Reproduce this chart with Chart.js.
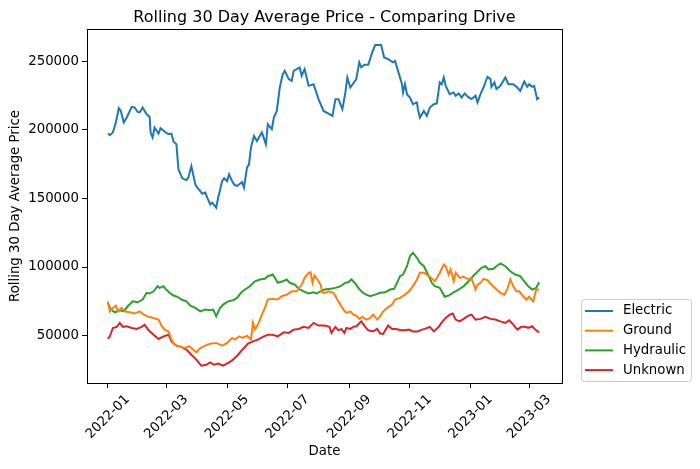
<!DOCTYPE html>
<html>
<head>
<meta charset="utf-8">
<script src="https://cdn.jsdelivr.net/npm/chart.js@4.4.1/dist/chart.umd.min.js"></script>
<style>
  html, body { margin: 0; padding: 0; background: #fff; }
  #chart { display: block; }
</style>
</head>
<body>
<canvas id="chart" width="700" height="469"></canvas>
<script>
// days counted from 2022-01-01
const tickDays = [0, 59, 120, 181, 243, 304, 365, 424];
const tickLabels = ["2022-01", "2022-03", "2022-05", "2022-07", "2022-09", "2022-11", "2023-01", "2023-03"];
const yTicks = [50000, 100000, 150000, 200000, 250000];
const seriesNames = ["Electric", "Ground", "Hydraulic", "Unknown"];
const seriesColors = ["#1f77b4", "#ff7f0e", "#2ca02c", "#d62728"];

const electricDays = [0, 2, 5, 8, 11, 13, 16, 19, 24, 27, 30, 32, 35, 39, 42, 43, 45, 47, 51, 53, 57, 61, 64, 66, 69, 71, 75, 79, 81, 84, 88, 90, 93, 95, 98, 100, 103, 105, 109, 111, 115, 117, 120, 122, 125, 127, 130, 135, 137, 140, 142, 144, 147, 150, 152, 155, 159, 161, 165, 167, 170, 173, 176, 178, 182, 185, 187, 193, 195, 198, 202, 207, 212, 217, 222, 226, 229, 232, 234, 236, 239, 241, 244, 250, 253, 255, 258, 262, 266, 269, 275, 278, 282, 287, 289, 292, 296, 297, 299, 301, 304, 307, 311, 312, 314, 318, 321, 324, 328, 331, 334, 336, 338, 340, 344, 348, 350, 353, 356, 359, 363, 366, 370, 372, 375, 378, 382, 385, 386, 389, 391, 395, 400, 403, 408, 412, 415, 419, 422, 424, 427, 429, 432, 434];
const electricPrices = [197200, 196000, 198000, 205300, 215700, 213700, 205300, 208900, 216700, 216200, 213000, 212600, 216200, 211300, 209400, 198000, 194300, 201600, 197200, 201100, 198700, 196700, 197200, 191400, 189400, 171200, 164600, 163200, 165100, 173600, 160200, 157800, 155300, 153400, 154200, 150500, 145600, 146900, 143200, 150500, 162600, 164600, 162600, 167500, 162600, 160200, 159000, 161900, 157800, 172400, 174800, 187000, 195500, 191800, 194300, 198000, 189400, 204000, 200400, 208900, 213700, 230800, 240500, 242900, 236900, 235600, 242900, 245400, 239300, 244200, 232000, 233200, 222300, 213700, 211800, 210100, 222300, 222300, 218600, 215000, 227200, 238100, 230800, 236900, 249100, 245400, 247300, 247300, 256400, 261700, 261700, 252700, 251500, 249100, 250200, 242900, 233200, 227200, 233200, 225900, 223500, 218600, 219900, 215000, 208900, 213700, 210100, 216200, 218600, 219100, 234500, 233200, 238100, 232000, 225900, 227200, 224700, 226400, 223500, 226400, 223500, 222300, 224700, 219900, 225900, 230800, 238600, 236900, 231300, 234500, 229600, 232000, 238100, 233200, 233200, 230800, 228300, 235200, 231300, 233200, 231300, 232000, 222300, 223500];

const groundDays = [0, 2, 5, 8, 10, 14, 17, 22, 27, 32, 36, 41, 46, 51, 54, 57, 61, 64, 67, 72, 77, 82, 86, 89, 93, 98, 103, 109, 115, 120, 125, 128, 132, 136, 140, 144, 146, 148, 151, 155, 158, 161, 166, 171, 175, 180, 185, 190, 195, 198, 202, 204, 206, 208, 211, 214, 216, 219, 222, 227, 230, 234, 237, 240, 244, 247, 250, 253, 256, 260, 264, 267, 271, 274, 277, 281, 286, 289, 294, 299, 303, 307, 311, 314, 318, 321, 324, 329, 334, 338, 340, 343, 345, 348, 350, 354, 358, 362, 366, 370, 372, 375, 378, 382, 386, 391, 395, 399, 402, 405, 408, 411, 414, 418, 421, 424, 428, 431, 434];
const groundPrices = [75000, 67700, 70200, 71900, 67700, 70200, 67700, 67000, 66100, 67700, 65300, 63700, 62900, 61700, 57300, 54400, 53100, 47100, 43400, 42200, 41000, 42200, 39800, 37800, 41000, 42700, 44200, 44700, 42700, 44700, 48300, 47100, 49500, 48300, 50000, 47100, 59300, 54400, 58000, 65300, 70200, 76300, 76800, 76300, 78700, 79900, 82300, 82300, 87200, 92100, 95800, 96200, 88500, 93800, 90900, 87200, 81200, 81200, 82300, 81200, 77500, 72600, 69000, 66600, 67700, 65300, 64600, 62200, 63700, 61700, 62900, 65300, 61700, 64100, 67700, 70200, 72600, 76300, 77500, 79900, 82300, 86000, 90900, 95800, 95800, 94500, 92900, 89600, 95800, 101800, 100600, 94500, 98200, 89600, 95800, 92100, 92900, 91400, 91400, 83600, 87200, 88500, 91400, 90400, 87200, 83600, 81200, 79900, 84100, 90900, 86000, 82300, 82300, 78700, 76300, 78300, 75000, 83600, 83600];

const hydraulicDays = [0, 3, 7, 12, 16, 20, 25, 30, 35, 39, 42, 46, 50, 52, 56, 58, 62, 66, 70, 74, 79, 83, 88, 93, 98, 103, 106, 109, 113, 116, 121, 126, 130, 134, 138, 143, 148, 153, 158, 161, 166, 168, 171, 176, 180, 183, 188, 193, 197, 202, 207, 210, 214, 218, 224, 229, 234, 239, 242, 245, 249, 252, 256, 260, 264, 269, 274, 279, 284, 288, 291, 294, 297, 301, 304, 307, 311, 314, 318, 323, 326, 329, 334, 339, 343, 348, 353, 358, 363, 368, 371, 376, 380, 383, 388, 391, 395, 400, 405, 410, 415, 419, 423, 427, 431, 434];
const hydraulicPrices = [73900, 69000, 67000, 68500, 67700, 71400, 75000, 74300, 76300, 81200, 80700, 82300, 86000, 84800, 86000, 84100, 81200, 79200, 78300, 76300, 75000, 71900, 70200, 67700, 69000, 68500, 69000, 64100, 70200, 72600, 75000, 75800, 77500, 81200, 83600, 86000, 89600, 90900, 91400, 93300, 94500, 92100, 88500, 89600, 90900, 88500, 87200, 83600, 82300, 80700, 81600, 80700, 82300, 83600, 84100, 84800, 86000, 88500, 88900, 90900, 88000, 84800, 81600, 79900, 78700, 79900, 81200, 81600, 83600, 84100, 88500, 93300, 94500, 100600, 107900, 110400, 106700, 103100, 100600, 93300, 88500, 86000, 84800, 78300, 79200, 81600, 83600, 86000, 89600, 93800, 95800, 99400, 100600, 98200, 98700, 100600, 102600, 100600, 96900, 94500, 93300, 89600, 86000, 83600, 84800, 88900];

const unknownDays = [0, 2, 5, 9, 12, 15, 19, 24, 29, 34, 37, 41, 46, 51, 56, 61, 64, 69, 74, 79, 84, 89, 94, 99, 103, 107, 111, 116, 121, 126, 131, 136, 141, 146, 151, 156, 161, 166, 171, 177, 182, 187, 192, 197, 202, 207, 212, 218, 223, 225, 229, 232, 235, 238, 240, 244, 247, 250, 255, 259, 262, 267, 271, 274, 277, 282, 286, 290, 295, 299, 303, 307, 312, 316, 319, 324, 328, 333, 336, 340, 344, 347, 350, 354, 358, 363, 366, 370, 375, 380, 385, 390, 395, 400, 404, 408, 412, 416, 420, 423, 427, 430, 434];
const unknownPrices = [47600, 49500, 55600, 56400, 59300, 56400, 56800, 55600, 54900, 56400, 58000, 53900, 50700, 47600, 49500, 50700, 45800, 42700, 41800, 39800, 36100, 32500, 28100, 28800, 30500, 28800, 29600, 28100, 30100, 32500, 36100, 40300, 44200, 45800, 47100, 49100, 50700, 50700, 49500, 52400, 52000, 54400, 54900, 56400, 55600, 59300, 57300, 57300, 56400, 52000, 56400, 53900, 54900, 52000, 55600, 54900, 56400, 56800, 60400, 56400, 53900, 53100, 54900, 51500, 51200, 57300, 54900, 54900, 53900, 53900, 54400, 53100, 53100, 54400, 54900, 56400, 53100, 56400, 59700, 62900, 65300, 66100, 61700, 60400, 62200, 64600, 65300, 61700, 62200, 63700, 62200, 61700, 60400, 59300, 61200, 58000, 54400, 56400, 56400, 55600, 56800, 54400, 52400];

const FONT = '"DejaVu Sans", sans-serif';
const FS = 13.3;

function toPoints(days, prices) {
  let pts = [];
  for (let i = 0; i < days.length; i++) {
    pts.push({ x: days[i], y: prices[i] });
  }
  return pts;
}

const allDays = [electricDays, groundDays, hydraulicDays, unknownDays];
const allPrices = [electricPrices, groundPrices, hydraulicPrices, unknownPrices];

let datasets = [];
for (let i = 0; i < seriesNames.length; i++) {
  datasets.push({
    label: seriesNames[i],
    data: toPoints(allDays[i], allPrices[i]),
    borderColor: seriesColors[i],
    borderWidth: 2,
    pointRadius: 0,
    fill: false,
    tension: 0,
  });
}

// matplotlib style frame, title, rotated ticks and legend box
const mplLook = {
  id: "mplLook",
  beforeDraw(chart) {
    const ctx = chart.ctx;
    ctx.save();
    ctx.fillStyle = "#fff";
    ctx.fillRect(0, 0, chart.width, chart.height);
    ctx.restore();
  },
  afterDraw(chart) {
    const ctx = chart.ctx;
    const a = chart.chartArea;
    const xs = chart.scales.x;
    ctx.save();

    // frame
    ctx.strokeStyle = "#000";
    ctx.lineWidth = 1;
    ctx.strokeRect(Math.round(a.left) + 0.5, Math.round(a.top) + 0.5,
      Math.round(a.right - a.left), Math.round(a.bottom - a.top));

    ctx.fillStyle = "#000";
    const midX = (a.left + a.right) / 2;

    // title
    ctx.font = "16px " + FONT;
    ctx.textAlign = "center";
    ctx.textBaseline = "alphabetic";
    ctx.fillText("Rolling 30 Day Average Price - Comparing Drive", midX, 22);

    // x tick labels, rotated 45 and centred under the tick
    ctx.font = FS + "px " + FONT;
    for (let i = 0; i < tickDays.length; i++) {
      const px = xs.getPixelForValue(tickDays[i]);
      const w = ctx.measureText(tickLabels[i]).width;
      const box = (w + FS * 1.13) * Math.SQRT1_2;
      ctx.save();
      ctx.translate(px, a.bottom + 9 + box / 2);
      ctx.rotate(-Math.PI / 4);
      ctx.textAlign = "center";
      ctx.textBaseline = "middle";
      ctx.fillText(tickLabels[i], 0, 0);
      ctx.restore();
    }

    // axis titles
    ctx.textAlign = "center";
    ctx.textBaseline = "middle";
    ctx.fillText("Date", midX, 452);
    ctx.save();
    ctx.translate(16, (a.top + a.bottom) / 2);
    ctx.rotate(-Math.PI / 2);
    ctx.fillText("Rolling 30 Day Average Price", 0, 0);
    ctx.restore();

    // legend
    ctx.beginPath();
    ctx.roundRect(581.5, 299.5, 110, 82, 3);
    ctx.fillStyle = "rgba(255,255,255,0.8)";
    ctx.fill();
    ctx.strokeStyle = "#cccccc";
    ctx.lineWidth = 1;
    ctx.stroke();
    ctx.textAlign = "left";
    for (let i = 0; i < seriesNames.length; i++) {
      const ly = 311 + i * 19.7;
      ctx.beginPath();
      ctx.moveTo(585, ly);
      ctx.lineTo(613, ly);
      ctx.strokeStyle = seriesColors[i];
      ctx.lineWidth = 2;
      ctx.stroke();
      ctx.fillStyle = "#000";
      ctx.fillText(seriesNames[i], 623, ly);
    }
    ctx.restore();
  },
};

const config = {
  type: "line",
  data: { datasets: datasets },
  options: {
    responsive: false,
    animation: false,
    devicePixelRatio: 1,
    layout: { padding: { left: 0, top: 29, right: 138, bottom: 0 } },
    plugins: {
      legend: { display: false },
      title: { display: false },
      tooltip: { enabled: false },
    },
    scales: {
      x: {
        type: "linear",
        min: -21,
        max: 457,
        afterFit: (s) => { s.height = 86; },
        afterBuildTicks: (s) => { s.ticks = tickDays.map((v) => ({ value: v })); },
        border: { display: false },
        grid: { drawOnChartArea: false, drawTicks: true, tickLength: 5, color: "#000", lineWidth: 1 },
        ticks: { display: false },
      },
      y: {
        min: 15500,
        max: 273400,
        afterFit: (s) => { s.width = 87; },
        afterBuildTicks: (s) => { s.ticks = yTicks.map((v) => ({ value: v })); },
        border: { display: false },
        grid: { drawOnChartArea: false, drawTicks: true, tickLength: 5, color: "#000", lineWidth: 1 },
        ticks: {
          color: "#000",
          padding: 3,
          font: { family: FONT, size: FS },
          callback: (v) => String(v),
        },
      },
    },
  },
  plugins: [mplLook],
};

const myChart = new Chart(document.getElementById("chart").getContext("2d"), config);
</script>
</body>
</html>
